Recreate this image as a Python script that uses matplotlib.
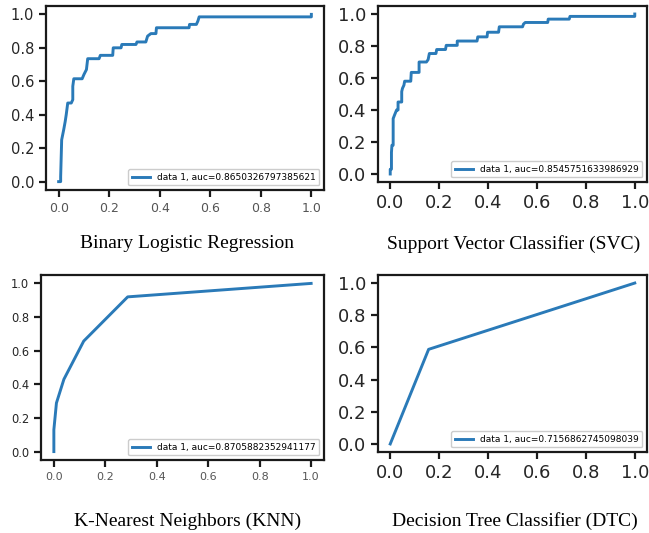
import matplotlib.pyplot as plt
import numpy as np

# ROC points
lr_fpr = [0, 0.008, 0.008, 0.012, 0.016, 0.02, 0.026, 0.03, 0.036, 0.05, 0.056, 0.056, 0.06, 0.093, 0.1, 0.11,
          0.115, 0.16, 0.165, 0.214, 0.216, 0.247, 0.25, 0.306, 0.31, 0.345, 0.352, 0.365, 0.385, 0.387, 0.516,
          0.518, 0.545, 0.551, 0.556, 1.0, 1.0]
lr_tpr = [0, 0, 0.03, 0.25, 0.28, 0.31, 0.36, 0.40, 0.47, 0.47, 0.49, 0.57, 0.615, 0.615, 0.64, 0.67,
          0.735, 0.735, 0.755, 0.755, 0.80, 0.80, 0.82, 0.82, 0.835, 0.835, 0.87, 0.885, 0.885, 0.92, 0.92,
          0.94, 0.94, 0.96, 0.985, 0.985, 1.0]
lr_auc = 0.8650326797385621

svc_fpr = [0, 0, 0.005, 0.005, 0.007, 0.012, 0.012, 0.018, 0.026, 0.032, 0.032, 0.047, 0.047, 0.05, 0.056,
           0.059, 0.084, 0.086, 0.118, 0.118, 0.148, 0.155, 0.16, 0.187, 0.19, 0.226, 0.229, 0.274, 0.274,
           0.355, 0.358, 0.396, 0.398, 0.443, 0.446, 0.541, 0.545, 0.552, 0.644, 0.646, 0.732, 0.735, 1.0, 1.0]
svc_tpr = [0, 0.03, 0.03, 0.135, 0.18, 0.18, 0.346, 0.37, 0.40, 0.40, 0.45, 0.45, 0.515, 0.535, 0.555,
           0.58, 0.58, 0.635, 0.635, 0.70, 0.70, 0.715, 0.753, 0.753, 0.778, 0.778, 0.804, 0.804, 0.831,
           0.831, 0.857, 0.857, 0.886, 0.886, 0.92, 0.92, 0.937, 0.947, 0.947, 0.968, 0.968, 0.985, 0.985, 1.0]
svc_auc = 0.8545751633986929

knn_fpr = [0, 0, 0.01, 0.039, 0.116, 0.287, 1.0]
knn_tpr = [0, 0.13, 0.289, 0.43, 0.657, 0.92, 1.0]
knn_auc = 0.8705882352941177

dtc_fpr = [0, 0.157, 1.0]
dtc_tpr = [0, 0.588, 1.0]
dtc_auc = 0.7156862745098039

titles = ["Binary Logistic Regression", "Support Vector Classifier (SVC)",
          "K-Nearest Neighbors (KNN)", "Decision Tree Classifier (DTC)"]

W, H = 649, 533
fig = plt.figure(figsize=(W / 100, H / 100), dpi=100)


def box(l, r, t, b):
    return [l / W, (H - b) / H, (r - l) / W, (b - t) / H]


panels = [
    # fpr, tpr, auc, box, ytick size, xtick size, xtick colour
    (lr_fpr, lr_tpr, lr_auc, box(46, 324, 6, 190), 10.5, 9, '#555555'),
    (svc_fpr, svc_tpr, svc_auc, box(378, 647, 6, 182), 13, 13, '#262626'),
    (knn_fpr, knn_tpr, knn_auc, box(41, 324, 275, 460), 8.3, 8, '#555555'),
    (dtc_fpr, dtc_tpr, dtc_auc, box(378, 647, 275, 452), 13, 13, '#262626'),
]

for fpr, tpr, auc, pos, ys, xs, xc in panels:
    ax = fig.add_axes(pos)
    ax.plot(fpr, tpr, color='#2a7ab8', lw=2.1, label="data 1, auc=" + str(auc))
    ax.set_xticks(np.arange(0, 1.01, 0.2))
    ax.set_yticks(np.arange(0, 1.01, 0.2))
    ax.tick_params(axis='both', length=5, width=1.6, color='#1a1a1a')
    ax.tick_params(axis='y', labelsize=ys, labelcolor='#262626')
    ax.tick_params(axis='x', labelsize=xs, labelcolor=xc)
    for s in ax.spines.values():
        s.set_linewidth(1.6)
        s.set_color('#1a1a1a')
    ax.legend(loc='lower right', fontsize=6.5, edgecolor='#cccccc', framealpha=1)

fig.text(187 / W, 1 - 244 / H, titles[0], ha='center', va='center', family='Liberation Serif', fontsize=14)
fig.text(514 / W, 1 - 244 / H, titles[1], ha='center', va='center', family='Liberation Serif', fontsize=14)
fig.text(188 / W, 1 - 521 / H, titles[2], ha='center', va='center', family='Liberation Serif', fontsize=14)
fig.text(515 / W, 1 - 521 / H, titles[3], ha='center', va='center', family='Liberation Serif', fontsize=14)

fig.savefig("out.png", dpi=100)
